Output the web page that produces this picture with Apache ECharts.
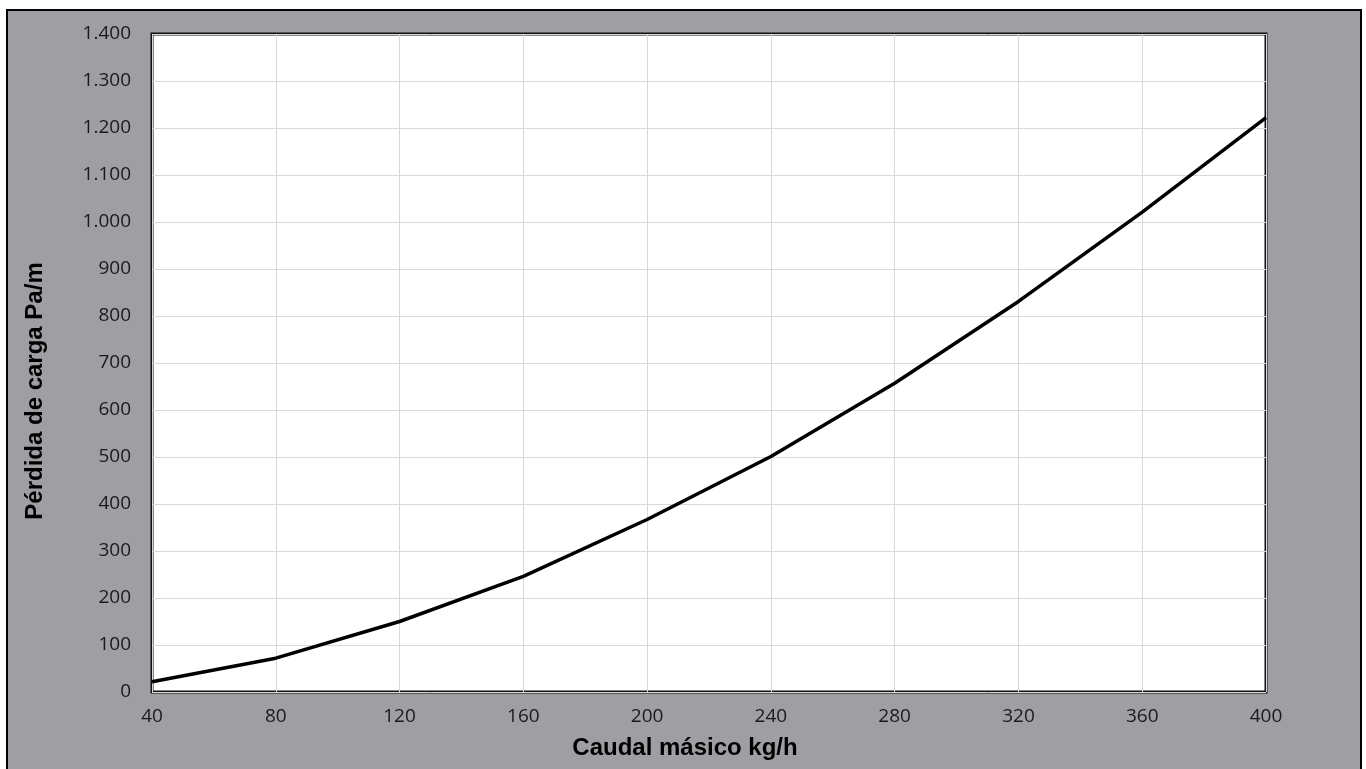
<!DOCTYPE html>
<html>
<head>
<meta charset="utf-8">
<script src="https://cdn.jsdelivr.net/npm/echarts@6/dist/echarts.min.js"></script>
<style>
html,body{margin:0;padding:0;background:#fff;}
#chart{width:1366px;height:769px;}
</style>
</head>
<body>
<div id="chart"></div>
<script>
const xValues = [40, 80, 120, 160, 200, 240, 280, 320, 360, 400];
const lossValues = [22, 72, 150, 246, 367, 501, 657, 831, 1021, 1222];
const xTitle = 'Caudal másico kg/h';
const yTitle = 'Pérdida de carga Pa/m';

function fmtThousands(v) {
  return String(v).replace(/\B(?=(\d{3})+(?!\d))/g, '.');
}

const chart = echarts.init(document.getElementById('chart'));
chart.setOption({
  backgroundColor: '#ffffff',
  animation: false,
  graphic: [
    {
      type: 'rect', z: -10, silent: true,
      shape: { x: 7, y: 10, width: 1354, height: 775 },
      style: { fill: '#9f9ea3', stroke: '#000', lineWidth: 2 }
    },
    {
      type: 'text', z: 10,
      x: 685, y: 748,
      style: {
        text: xTitle, fill: '#000',
        font: 'bold 24px "Liberation Sans", Arial, sans-serif',
        align: 'center', verticalAlign: 'middle'
      }
    },
    {
      type: 'text', z: 10,
      x: 35, y: 391, rotation: Math.PI / 2,
      style: {
        text: yTitle, fill: '#000',
        font: 'bold 24px "Liberation Sans", Arial, sans-serif',
        align: 'center', verticalAlign: 'middle'
      }
    }
  ],
  grid: {
    left: 152, top: 34, right: 100, bottom: 77,
    show: true, backgroundColor: '#ffffff',
    borderColor: '#111', borderWidth: 3
  },
  xAxis: {
    type: 'value', min: 40, max: 400, interval: 40,
    axisLine: { show: false },
    axisTick: { show: false },
    splitLine: { show: true, lineStyle: { color: '#d9d9d9', width: 1 } },
    axisLabel: {
      margin: 15, color: '#1a1a1a',
      fontFamily: '"Open Sans", sans-serif', fontSize: 19
    }
  },
  yAxis: {
    type: 'value', min: 0, max: 1400, interval: 100,
    axisLine: { show: false },
    axisTick: { show: false },
    splitLine: { show: true, lineStyle: { color: '#d9d9d9', width: 1 } },
    axisLabel: {
      margin: 21, color: '#1a1a1a',
      fontFamily: '"Open Sans", sans-serif', fontSize: 19,
      formatter: fmtThousands
    }
  },
  series: [{
    type: 'line',
    data: xValues.map((x, i) => [x, lossValues[i]]),
    showSymbol: false,
    smooth: false,
    lineStyle: { color: '#000', width: 3.5 },
    clip: false
  }]
});
</script>
</body>
</html>
